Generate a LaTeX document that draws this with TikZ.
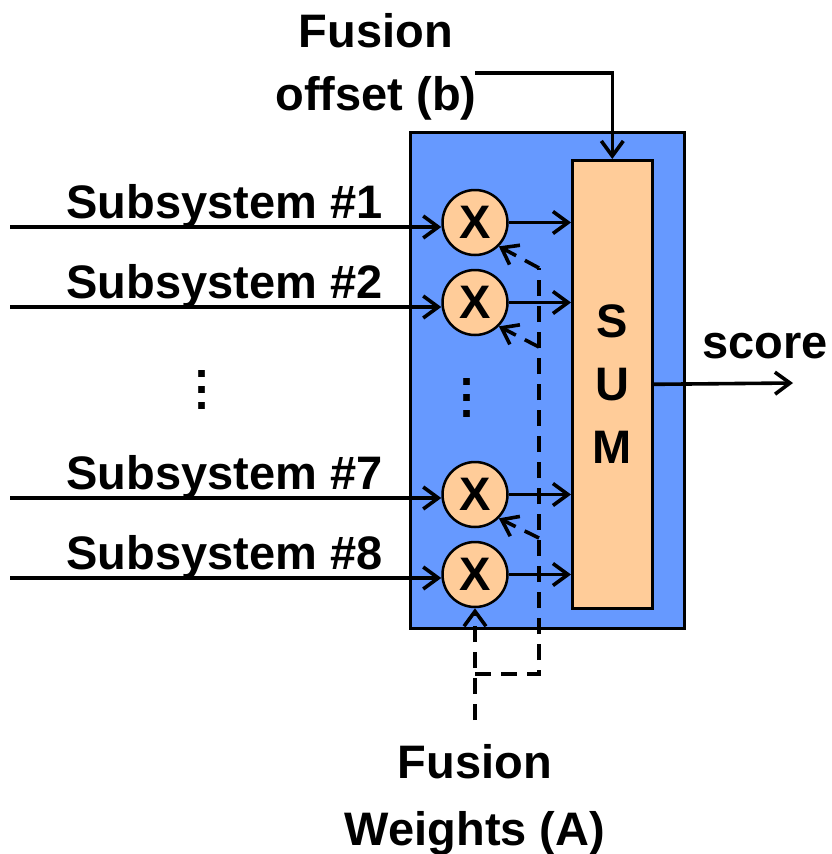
\documentclass[tikz,border=0pt]{standalone}
\usepackage{fontspec}
\setmainfont{Liberation Sans}
\usetikzlibrary{arrows.meta}
\definecolor{blueF}{HTML}{6699FF}
\definecolor{orangeF}{HTML}{FFCC99}
\begin{document}
\begin{tikzpicture}[x=1pt,y=-1pt,
  txt/.style={font=\bfseries\fontsize{47}{56}\selectfont, inner sep=0pt},
  box/.style={draw=black, line width=2.6pt, inner sep=0pt},
  mult/.style={circle, draw=black, line width=2.5pt, fill=orangeF, minimum size=65pt, inner sep=0pt, font=\bfseries\fontsize{47}{56}\selectfont},
  vtip/.tip={Straight Barb[length=15pt,width=22pt]},
  arr/.style={line width=3.6pt, -vtip},
  dline/.style={line width=3.6pt, dash pattern=on 16pt off 10pt},
  darr/.style={dline, -vtip}]
\useasboundingbox (0,0) rectangle (832,854);

% blocks
\node[box, fill=blueF, minimum width=274pt, minimum height=496pt, anchor=north west] (fuse) at (409,131) {};
\node[box, fill=orangeF, minimum width=80pt, minimum height=448pt, anchor=north west,
      align=center, font=\bfseries\fontsize{47}{63}\selectfont, text depth=0pt] (sum) at (571,159) {S\\U\\M};

% multipliers
\node[mult] (m1) at (475,222.5) {X};
\node[mult] (m2) at (475,302.5) {X};
\node[mult] (m7) at (475,494.5) {X};
\node[mult] (m8) at (475,574.5) {X};

% labels
\node[txt, anchor=base] (l1) at (224.5,218) {Subsystem \#1};
\node[txt, anchor=base] (l2) at (224.5,298) {Subsystem \#2};
\node[txt, anchor=base] (l7) at (224.5,489) {Subsystem \#7};
\node[txt, anchor=base] (l8) at (224.5,569) {Subsystem \#8};
\node[txt, anchor=south, align=center, font=\bfseries\fontsize{47}{16}\selectfont, text depth=0pt] (dl) at (202,410) {.\\.\\.};
\node[txt, anchor=south, align=center, font=\bfseries\fontsize{47}{16}\selectfont, text depth=0pt] (dm) at (467,418) {.\\.\\.};
\node[txt, anchor=base] (fo1) at (376,47) {Fusion};
\node[txt, anchor=base] (fo2) at (376,110) {offset (b)};
\node[txt, anchor=base] (fw1) at (475,778) {Fusion};
\node[txt, anchor=base] (fw2) at (475,845) {Weights (A)};
\node[txt, anchor=base] (sc) at (765,358) {score};

% coordinates
\coordinate (s1) at (10,227);
\coordinate (s2) at (10,307);
\coordinate (s7) at (10,498);
\coordinate (s8) at (10,578);
\coordinate (b0) at (475,73);
\coordinate (out) at (793,383);
\coordinate (w0) at (475,720);
\coordinate (wj) at (475,674);
\coordinate (d1) at (539,268);
\coordinate (d2) at (539,347);
\coordinate (d3) at (539,538);

% inputs
\draw[arr] (s1) -- (s1 -| m1.west);
\draw[arr] (s2) -- (s2 -| m2.west);
\draw[arr] (s7) -- (s7 -| m7.west);
\draw[arr] (s8) -- (s8 -| m8.west);

% outputs to sum
\draw[arr] (m1.east) -- (m1.east -| sum.west);
\draw[arr] (m2.east) -- (m2.east -| sum.west);
\draw[arr] (m7.east) -- (m7.east -| sum.west);
\draw[arr] (m8.east) -- (m8.east -| sum.west);

% offset and score
\draw[arr] (b0) -| (sum.north);
\draw[arr] (sum.east) -- (out);

% weights (dashed)
\draw[darr] (w0) -- (m8.south);
\draw[dline] (wj) -| (d1);
\draw[darr] (d1) -- (m1.-45);
\draw[darr] (d2) -- (m2.-45);
\draw[darr] (d3) -- (m7.-45);
\end{tikzpicture}
\end{document}
